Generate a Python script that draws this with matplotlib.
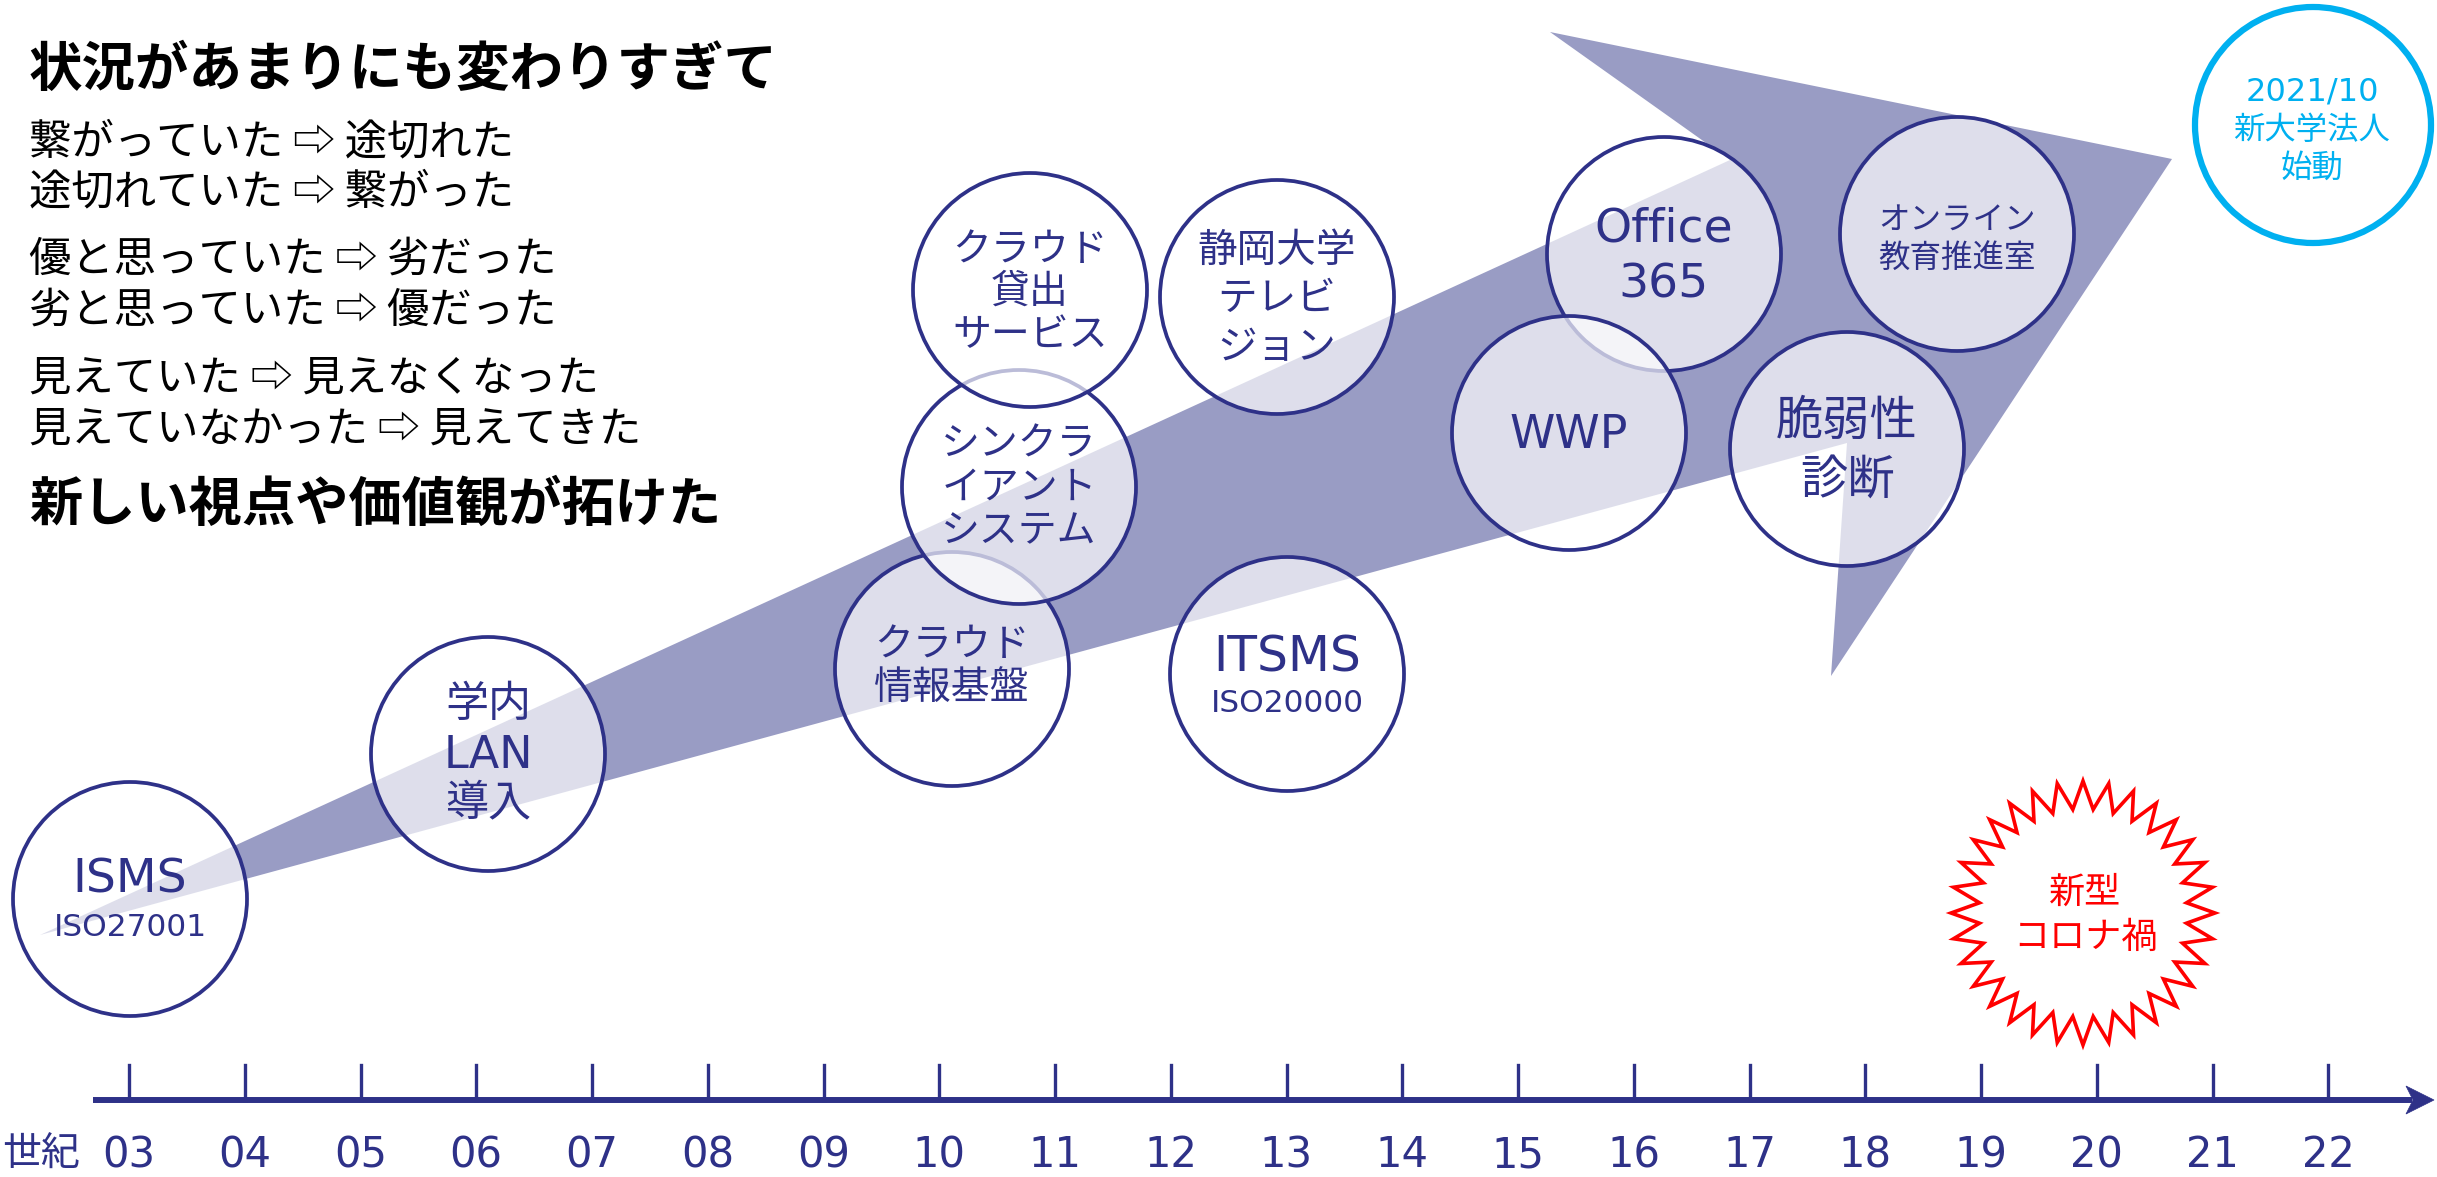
import numpy as np
import matplotlib
matplotlib.use("Agg")
import matplotlib.pyplot as plt
from matplotlib.patches import Circle, Polygon

# Palette taken from the slide
NAVY = "#2E3188"
ARROW_FILL = "#999CC4"
CYAN = "#00B0F0"
RED = "#FF0000"

CJK = ["Noto Sans CJK JP", "DejaVu Sans"]
LATIN = ["DejaVu Sans", "Noto Sans CJK JP"]

# Left-hand message block
headline = "状況があまりにも変わりすぎて"
contrasts = [
    "繋がっていた ⇨ 途切れた",
    "途切れていた ⇨ 繋がった",
    "優と思っていた ⇨ 劣だった",
    "劣と思っていた ⇨ 優だった",
    "見えていた ⇨ 見えなくなった",
    "見えていなかった ⇨ 見えてきた",
]
conclusion = "新しい視点や価値観が拓けた"

# Timeline (century-like ticks)
tick_values = list(range(3, 23))
tick_labels = [f"{v:02d}" for v in tick_values]
axis_unit = "世紀"

# Milestones, drawn bottom to top in this order
milestone_lines = [
    ["ISMS", "ISO27001"],
    ["学内", "LAN", "導入"],
    ["クラウド", "情報基盤"],
    ["シンクラ", "イアント", "システム"],
    ["クラウド", "貸出", "サービス"],
    ["静岡大学", "テレビ", "ジョン"],
    ["ITSMS", "ISO20000"],
    ["Office", "365"],
    ["WWP"],
    ["オンライン", "教育推進室"],
    ["脆弱性", "診断"],
]
new_org_lines = ["2021/10", "新大学法人", "始動"]
covid_lines = ["新型", "コロナ禍"]

# ---- layout (pixel space of a 2437x1177 canvas) ----
W, H = 2437, 1177
R = 117
milestone_xy = [(130, 899), (488, 754), (952, 669), (1019, 487), (1030, 290),
                (1277, 297), (1287, 674), (1664, 254), (1569, 433),
                (1957, 234), (1847, 449)]
milestone_text_y = [[880, 927], [705, 755, 803], [645, 688], [445, 488, 531],
                    [250, 292, 335], [251, 299, 348], [657, 703], [229, 285],
                    [435], [221, 258], [422, 481]]
milestone_text_size = [[34, 22.5], [31, 32, 31], [28, 28], [28, 28, 28],
                       [28, 28, 28], [28.5, 28.5, 28.5], [35, 22.5], [34, 34],
                       [33], [22.7, 22.7], [34, 34]]

arrow_shape = [(40, 935), (1730, 160), (1550, 32), (2172, 159),
               (1831, 676), (1847, 443)]

fig = plt.figure(figsize=(W / 100, H / 100), dpi=100)
ax = fig.add_axes([0, 0, 1, 1])
ax.set_xlim(0, W)
ax.set_ylim(H, 0)
ax.axis("off")

# Big growth arrow behind everything
ax.add_patch(Polygon(arrow_shape, closed=True, facecolor=ARROW_FILL,
                     edgecolor="none", zorder=1))

# Milestone bubbles (semi-transparent white so the arrow shows through)
for i, ((cx, cy), lines) in enumerate(zip(milestone_xy, milestone_lines)):
    z = 2 + i
    ax.add_patch(Circle((cx, cy), R, facecolor=(1, 1, 1, 0.68),
                        edgecolor=NAVY, linewidth=2.7, zorder=z))
    for txt, ty, fs in zip(lines, milestone_text_y[i], milestone_text_size[i]):
        fam = LATIN if txt.isascii() else CJK
        ax.text(cx, ty, txt, color=NAVY, fontsize=fs, family=fam,
                ha="center", va="center", zorder=30)

# New university corporation bubble
ax.add_patch(Circle((2313, 125), 118, facecolor="white", edgecolor=CYAN,
                    linewidth=4.5, zorder=20))
for txt, ty, fs in zip(new_org_lines, [92, 130, 168], [23, 22.6, 22.6]):
    fam = LATIN if txt.isascii() else CJK
    ax.text(2312, ty, txt, color=CYAN, fontsize=fs, family=fam,
            ha="center", va="center", zorder=30)

# COVID starburst (32 points)
n_pts = 32
ang = np.pi / 2 + np.arange(2 * n_pts) * np.pi / n_pts
rad = np.where(np.arange(2 * n_pts) % 2 == 0, 132, 104)
star = np.column_stack([2083 + rad * np.cos(ang), 913 - rad * np.sin(ang)])
ax.add_patch(Polygon(star, closed=True, facecolor="white", edgecolor=RED,
                     linewidth=2.6, joinstyle="miter", zorder=20))
for txt, ty in zip(covid_lines, [893, 938]):
    ax.text(2085, ty, txt, color=RED, fontsize=26, family=CJK,
            ha="center", va="center", zorder=30)

# Message block
ax.text(29, 70, headline, fontsize=38.5, fontweight="bold", family=CJK,
        color="black", ha="left", va="center")
for txt, ty in zip(contrasts, [142, 192, 260, 311, 379, 430]):
    ax.text(29, ty, txt, fontsize=30.5, family=CJK, color="black",
            ha="left", va="center")
ax.text(29, 505, conclusion, fontsize=38.3, fontweight="bold", family=CJK,
        color="black", ha="left", va="center")

# Timeline axis
x0, step, y_axis = 129, 115.75, 1100
ax.plot([93, 2412], [y_axis, y_axis], color=NAVY, linewidth=4.3,
        solid_capstyle="butt", zorder=5)
ax.add_patch(Polygon([(2434, y_axis), (2406, y_axis - 14), (2413, y_axis),
                      (2406, y_axis + 14)], closed=True, facecolor=NAVY,
                     edgecolor=NAVY, linewidth=0.5, zorder=5))
for v, lab in zip(tick_values, tick_labels):
    tx = x0 + (v - 3) * step
    ax.plot([tx, tx], [1065, y_axis], color=NAVY, linewidth=2.4, zorder=5)
    ax.text(tx, 1155, lab, color=NAVY, fontsize=30, family=LATIN,
            ha="center", va="center")
ax.text(2, 1155, axis_unit, color=NAVY, fontsize=28, family=CJK,
        ha="left", va="center")

fig.savefig("out.png", dpi=100)
